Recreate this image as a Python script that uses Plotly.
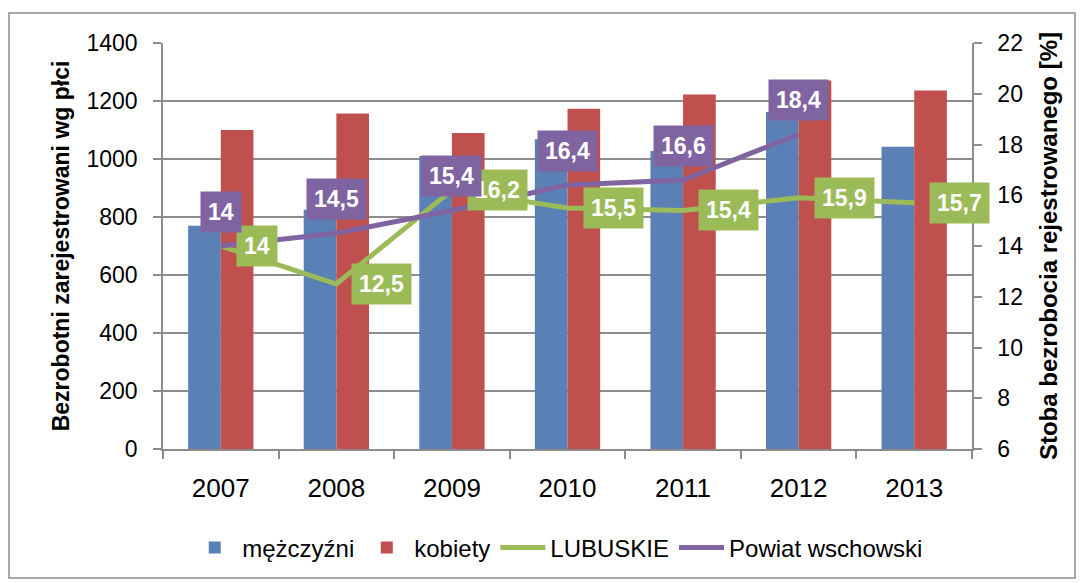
import plotly.graph_objects as go

years = ["2007", "2008", "2009", "2010", "2011", "2012", "2013"]
mezczyzni = [770, 825, 1010, 1068, 1028, 1162, 1042]
kobiety = [1100, 1157, 1090, 1173, 1222, 1271, 1236]
lubuskie = [14, 12.5, 16.2, 15.5, 15.4, 15.9, 15.7]
powiat = [14, 14.5, 15.4, 16.4, 16.6, 18.4, None]

BLUE = "#5B80B5"
RED = "#C0504D"
GREEN = "#9BBB59"
PURPLE = "#8064A2"
GRID = "#8C8C8C"
FONT = "Liberation Sans"

def fmt(v):
    s = ("%g" % v)
    return s.replace(".", ",")

fig = go.Figure()
fig.add_trace(go.Bar(x=years, y=mezczyzni, name="mężczyźni", marker=dict(color=BLUE, line=dict(width=0))))
fig.add_trace(go.Bar(x=years, y=kobiety, name="kobiety", marker=dict(color=RED, line=dict(width=0))))
fig.add_trace(go.Scatter(x=years, y=lubuskie, name="LUBUSKIE", mode="lines", yaxis="y2",
                         line=dict(color=GREEN, width=5)))
fig.add_trace(go.Scatter(x=years, y=powiat, name="Powiat wschowski", mode="lines", yaxis="y2",
                         line=dict(color=PURPLE, width=5)))

anns = []
for i, v in enumerate(lubuskie):
    anns.append(dict(x=i, y=v, xref="x", yref="y2", text="<b>%s</b>" % fmt(v), showarrow=False,
                     xanchor="left", yanchor="middle", xshift=15, bgcolor=GREEN, borderpad=7,
                     font=dict(family=FONT, size=23, color="white")))
for i, v in enumerate(powiat):
    if v is None:
        continue
    anns.append(dict(x=i, y=v, xref="x", yref="y2", text="<b>%s</b>" % fmt(v), showarrow=False,
                     xanchor="center", yanchor="middle", yshift=34, bgcolor=PURPLE, borderpad=7,
                     font=dict(family=FONT, size=23, color="white")))

W, H = 1083, 583
L, R, T, B = 163, 111, 43, 134
pw = W - L - R
ph = H - T - B

def px(xp):
    return (xp - L) / pw

def py(yp):
    return (H - B - yp) / ph

fig.update_layout(
    width=W, height=H,
    margin=dict(l=L, r=R, t=T, b=B),
    paper_bgcolor="white", plot_bgcolor="white",
    barmode="group", bargap=0.435, bargroupgap=0,
    font=dict(family=FONT, size=23, color="black"),
    showlegend=True,
    legend=dict(orientation="h", x=0.515, xanchor="center", xref="container", y=0.06, yanchor="middle",
                yref="container", font=dict(family=FONT, size=24), traceorder="normal",
                itemwidth=45),
    xaxis=dict(type="category", range=[-0.5, 6.5], showline=True, linecolor=GRID, linewidth=1.5,
               ticks="outside", tickson="boundaries", ticklen=8, tickcolor=GRID, tickwidth=1.5,
               showgrid=False, tickfont=dict(size=26), tickangle=0, ticklabelstandoff=15),
    yaxis=dict(range=[0, 1400], dtick=200, showline=True, linecolor=GRID, linewidth=1.5,
               ticks="outside", ticklen=8, tickcolor=GRID, tickwidth=1.5, showgrid=True,
               gridcolor=GRID, gridwidth=1.5, zeroline=False, tickfont=dict(size=23),
               ticklabelstandoff=11,
               title=dict(text="<b>Bezrobotni zarejestrowani wg płci</b>", font=dict(size=23), standoff=10)),
    yaxis2=dict(range=[6, 22], dtick=2, overlaying="y", side="right", showline=True, linecolor=GRID,
                linewidth=1.5, ticks="outside", ticklen=8, tickcolor=GRID, tickwidth=1.5, showgrid=False,
                zeroline=False, tickfont=dict(size=23), ticklabelstandoff=11,
                title=dict(text="<b>Stoba bezrobocia rejestrowanego [%]</b>", font=dict(size=24), standoff=18)),
    annotations=anns,
    shapes=[dict(type="rect", xref="paper", yref="paper",
                 x0=px(9), x1=px(1075), y0=py(578), y1=py(13),
                 line=dict(color=GRID, width=1.5), fillcolor="rgba(0,0,0,0)", layer="below")],
)

fig.write_html("out.html", config={"displayModeBar": False},
               post_script="document.body.style.margin='0';")
